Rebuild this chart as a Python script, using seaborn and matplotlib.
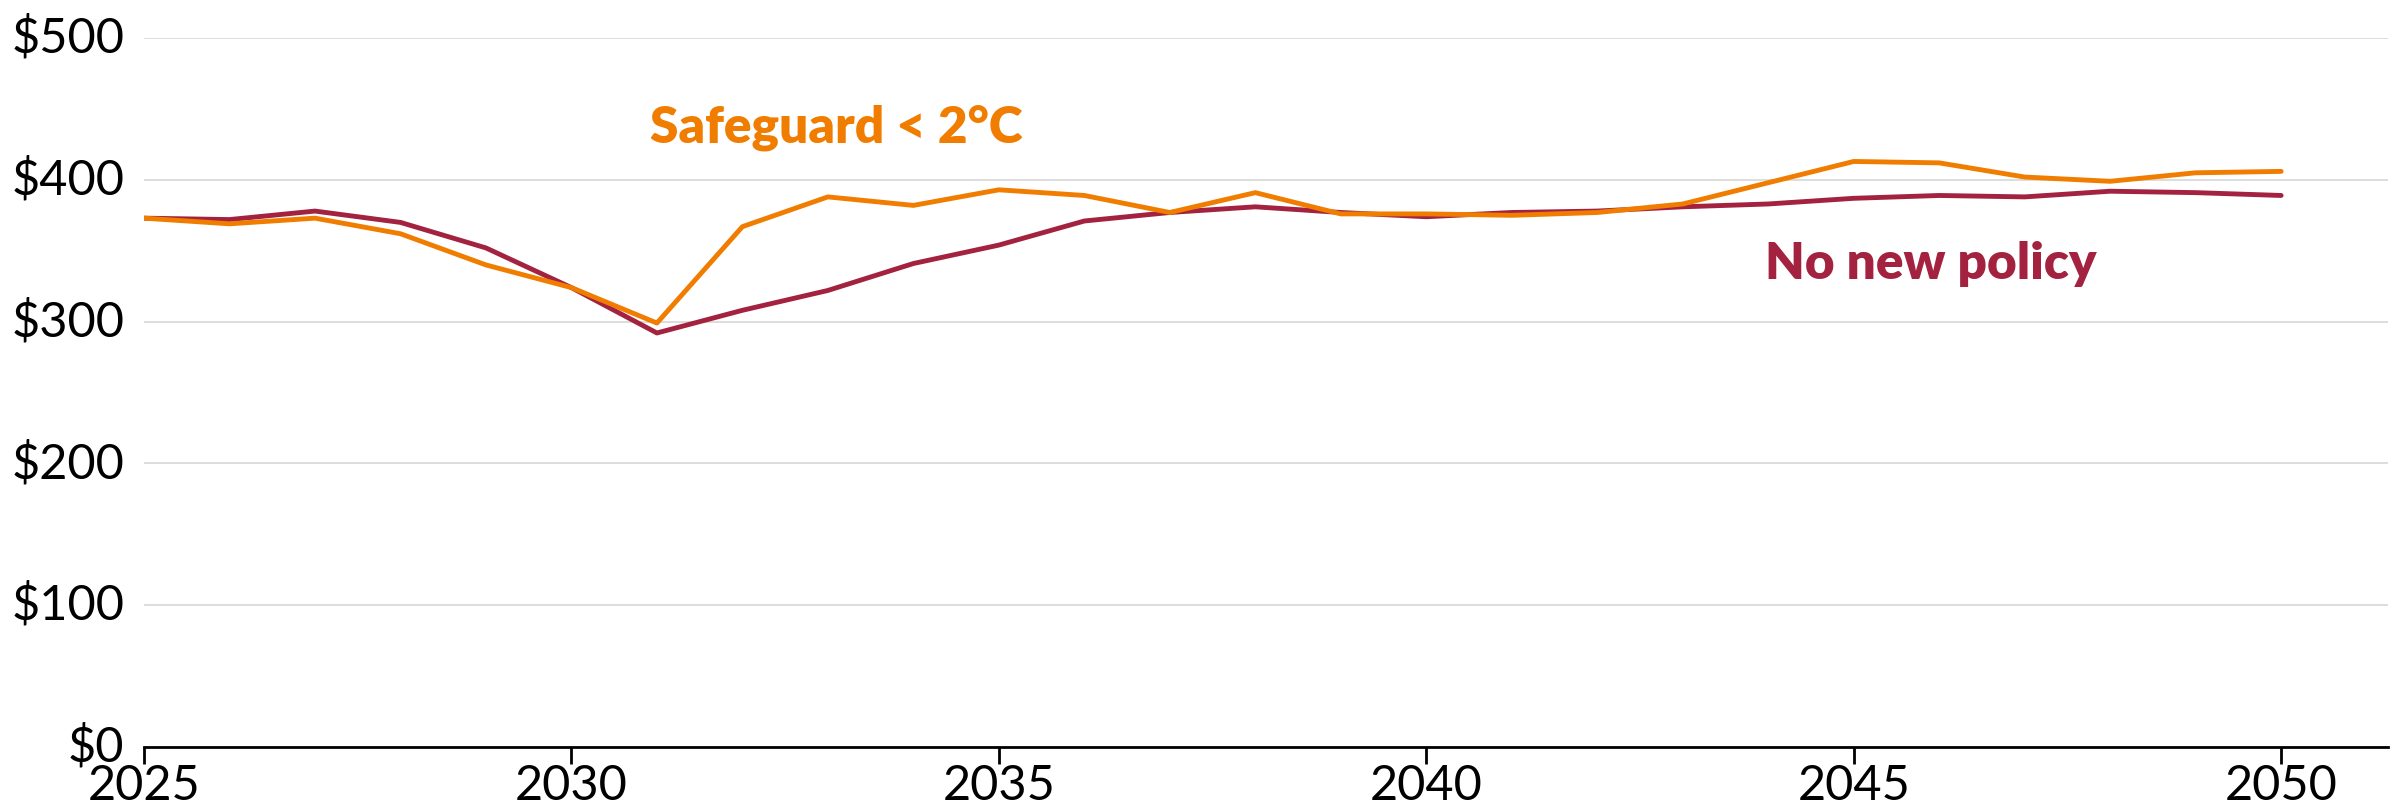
import pandas as pd
import matplotlib.pyplot as plt
import matplotlib.transforms as mtransforms
import seaborn as sns

# ------------------------------------------------------------
# data
# ------------------------------------------------------------
years = list(range(2025, 2051))
no_new_policy = [373, 372, 378, 370, 352, 324, 292, 308, 322, 341, 354, 371, 377,
                 381, 377, 374, 377, 378, 381, 383, 387, 389, 388, 392, 391, 389]
safeguard = [373, 369, 373, 362, 340, 324, 299, 367, 388, 382, 393, 389, 377,
             391, 376, 376, 375, 377, 383, 398, 413, 412, 402, 399, 405, 406]
series_names = ["No new policy", "Safeguard < 2°C"]
series_colors = ["#A3223F", "#F07D00"]
y_ticks = [0, 100, 200, 300, 400, 500]
y_tick_labels = ["$0", "$100", "$200", "$300", "$400", "$500"]
x_ticks = [2025, 2030, 2035, 2040, 2045, 2050]

df = pd.DataFrame({
    "year": years * 2,
    "value": no_new_policy + safeguard,
    "scenario": [series_names[0]] * len(years) + [series_names[1]] * len(years),
})

sns.set_theme(style="white")
plt.rcParams["font.family"] = ["Lato", "DejaVu Sans"]

fig = plt.figure(figsize=(24, 8.11), dpi=100)
ax = fig.add_axes([0.06, 0.079, 0.935, 0.874])

sns.lineplot(data=df, x="year", y="value", hue="scenario",
             palette=dict(zip(series_names, series_colors)),
             linewidth=3.5, legend=False, ax=ax, zorder=3)

ax.set_xlim(2025, 2051.25)
ax.set_ylim(0, 500)
ax.set_xticks(x_ticks)
ax.set_xticklabels([str(x) for x in x_ticks], fontsize=35, color="black")
ax.set_yticks(y_ticks)
ax.set_yticklabels(y_tick_labels, fontsize=35, color="black", va="center")
ax.set_xlabel("")
ax.set_ylabel("")

# y labels sit a little above their grid line
shift = mtransforms.ScaledTranslation(0, 6 / 72, fig.dpi_scale_trans)
for lbl in ax.get_yticklabels():
    lbl.set_transform(lbl.get_transform() + shift)

ax.grid(axis="y", color="#DDDDDD", linewidth=1.4, zorder=0)
ax.grid(axis="x", visible=False)
for side in ["left", "right", "top"]:
    ax.spines[side].set_visible(False)
ax.spines["bottom"].set_color("black")
ax.spines["bottom"].set_linewidth(2)

ax.tick_params(axis="x", direction="out", length=12, width=2, color="black",
               pad=0, bottom=True)
ax.tick_params(axis="y", length=0, pad=14)

# direct labels
ax.text(2030.92, 437, series_names[1], color=series_colors[1], fontsize=37,
        fontweight="heavy", va="center", ha="left")
ax.text(2043.96, 341, series_names[0], color=series_colors[0], fontsize=37,
        fontweight="heavy", va="center", ha="left")

fig.savefig("out.png", dpi=100, facecolor="white")
